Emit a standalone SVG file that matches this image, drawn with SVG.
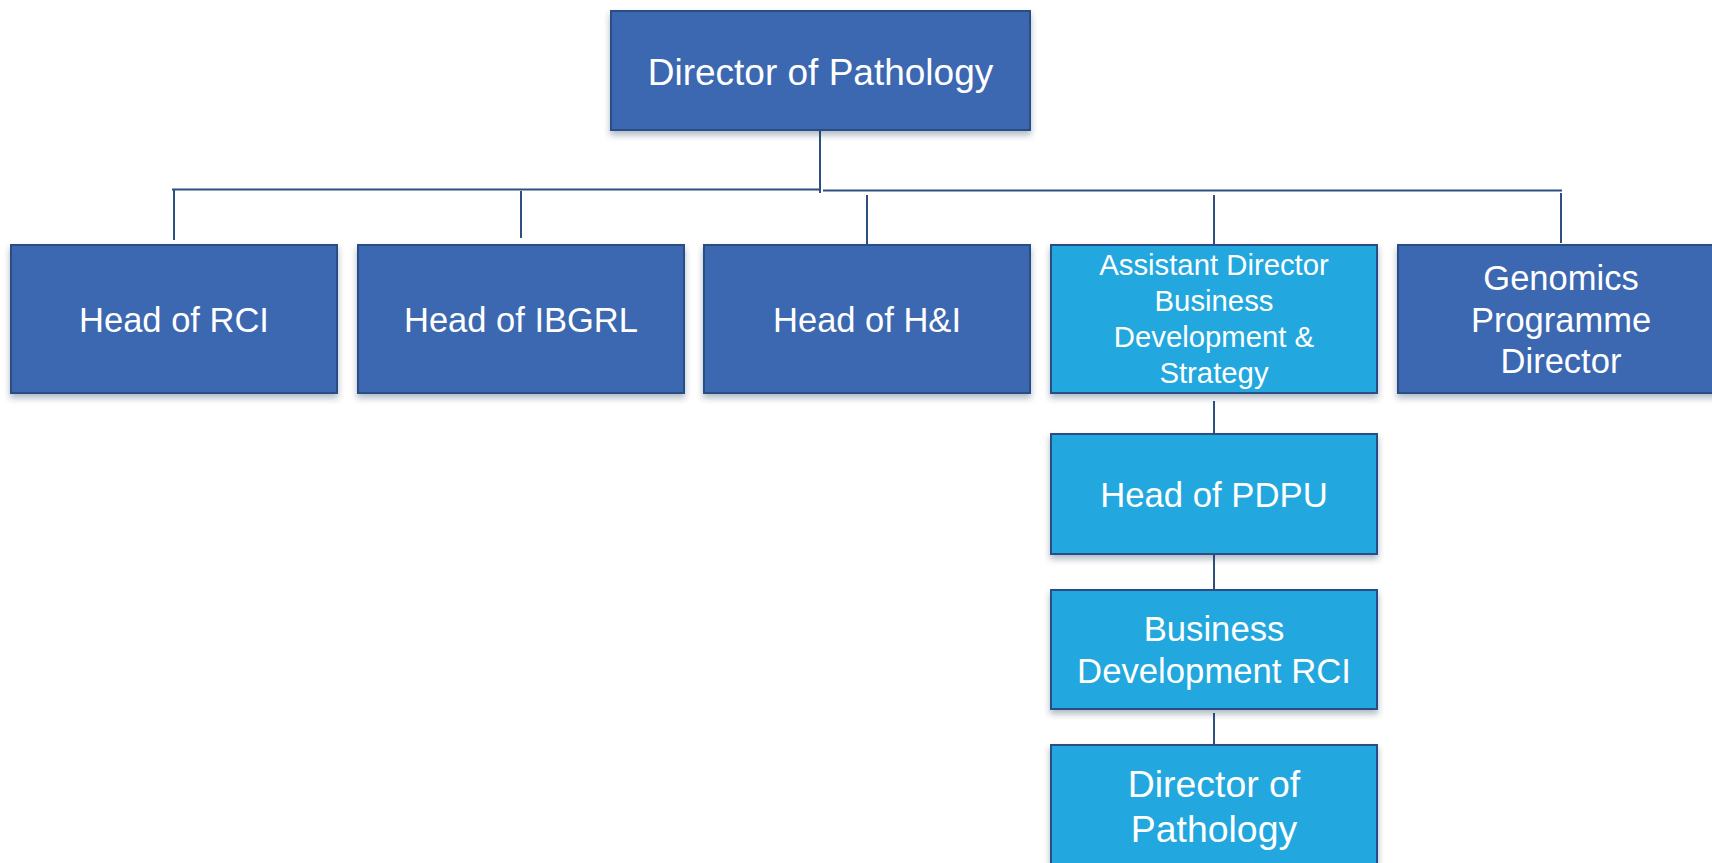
<svg xmlns="http://www.w3.org/2000/svg" width="1712" height="863" viewBox="0 0 1712 863">
<defs>
<filter id="sh" x="-10%" y="-10%" width="120%" height="130%">
<feDropShadow dx="0" dy="4" stdDeviation="3" flood-color="#1f3550" flood-opacity="0.35"/>
</filter>
<style>
.dk{fill:#3B67B1;stroke:#2B4D83;stroke-width:2;filter:url(#sh)}
.lt{fill:#22A8DE;stroke:#2B4D83;stroke-width:2;filter:url(#sh)}
.t{font-family:"Liberation Sans",Arial,sans-serif;fill:#fff;text-anchor:middle}
.c{stroke:#2E4F80;stroke-width:2;fill:none}
</style>
</defs>
<rect width="1712" height="863" fill="#fff"/>
<g id="connectors">
<line class="c" x1="820" y1="130" x2="820" y2="193"/>
<line class="c" x1="172" y1="189.5" x2="820" y2="189.5"/>
<line class="c" x1="823" y1="190.5" x2="1562" y2="190.5"/>
<line class="c" x1="174" y1="189" x2="174" y2="240"/>
<line class="c" x1="521" y1="191" x2="521" y2="238"/>
<line class="c" x1="867" y1="195" x2="867" y2="245"/>
<line class="c" x1="1214" y1="195" x2="1214" y2="245"/>
<line class="c" x1="1561" y1="193" x2="1561" y2="243"/>
<line class="c" x1="1214" y1="401" x2="1214" y2="434"/>
<line class="c" x1="1214" y1="554" x2="1214" y2="590"/>
<line class="c" x1="1214" y1="713" x2="1214" y2="745"/>
</g>
<g id="director">
<rect class="dk" x="611" y="11" width="419" height="119"/>
<text class="t" x="820.5" y="85" font-size="37">Director of Pathology</text>
</g>
<g id="rci">
<rect class="dk" x="11" y="245" width="326" height="148"/>
<text class="t" x="174" y="332" font-size="34.5">Head of RCI</text>
</g>
<g id="ibgrl">
<rect class="dk" x="358" y="245" width="326" height="148"/>
<text class="t" x="521" y="332" font-size="34.5">Head of IBGRL</text>
</g>
<g id="hi">
<rect class="dk" x="704" y="245" width="326" height="148"/>
<text class="t" x="867" y="332" font-size="34.5">Head of H&amp;I</text>
</g>
<g id="assistant">
<rect class="lt" x="1051" y="245" width="326" height="148"/>
<text class="t" font-size="29.3"><tspan x="1214" y="275">Assistant Director</tspan><tspan x="1214" y="311">Business</tspan><tspan x="1214" y="347">Development &amp;</tspan><tspan x="1214" y="383">Strategy</tspan></text>
</g>
<g id="genomics">
<rect class="dk" x="1398" y="245" width="326" height="148"/>
<text class="t" font-size="34.5"><tspan x="1561" y="290">Genomics</tspan><tspan x="1561" y="332">Programme</tspan><tspan x="1561" y="373">Director</tspan></text>
</g>
<g id="pdpu">
<rect class="lt" x="1051" y="434" width="326" height="120"/>
<text class="t" x="1214" y="507" font-size="34.7">Head of PDPU</text>
</g>
<g id="bdrci">
<rect class="lt" x="1051" y="590" width="326" height="119"/>
<text class="t" font-size="34.7"><tspan x="1214" y="641">Business</tspan><tspan x="1214" y="683">Development RCI</tspan></text>
</g>
<g id="director2">
<rect class="lt" x="1051" y="745" width="326" height="130"/>
<text class="t" font-size="37.4"><tspan x="1214" y="797">Director of</tspan><tspan x="1214" y="842">Pathology</tspan></text>
</g>
</svg>
